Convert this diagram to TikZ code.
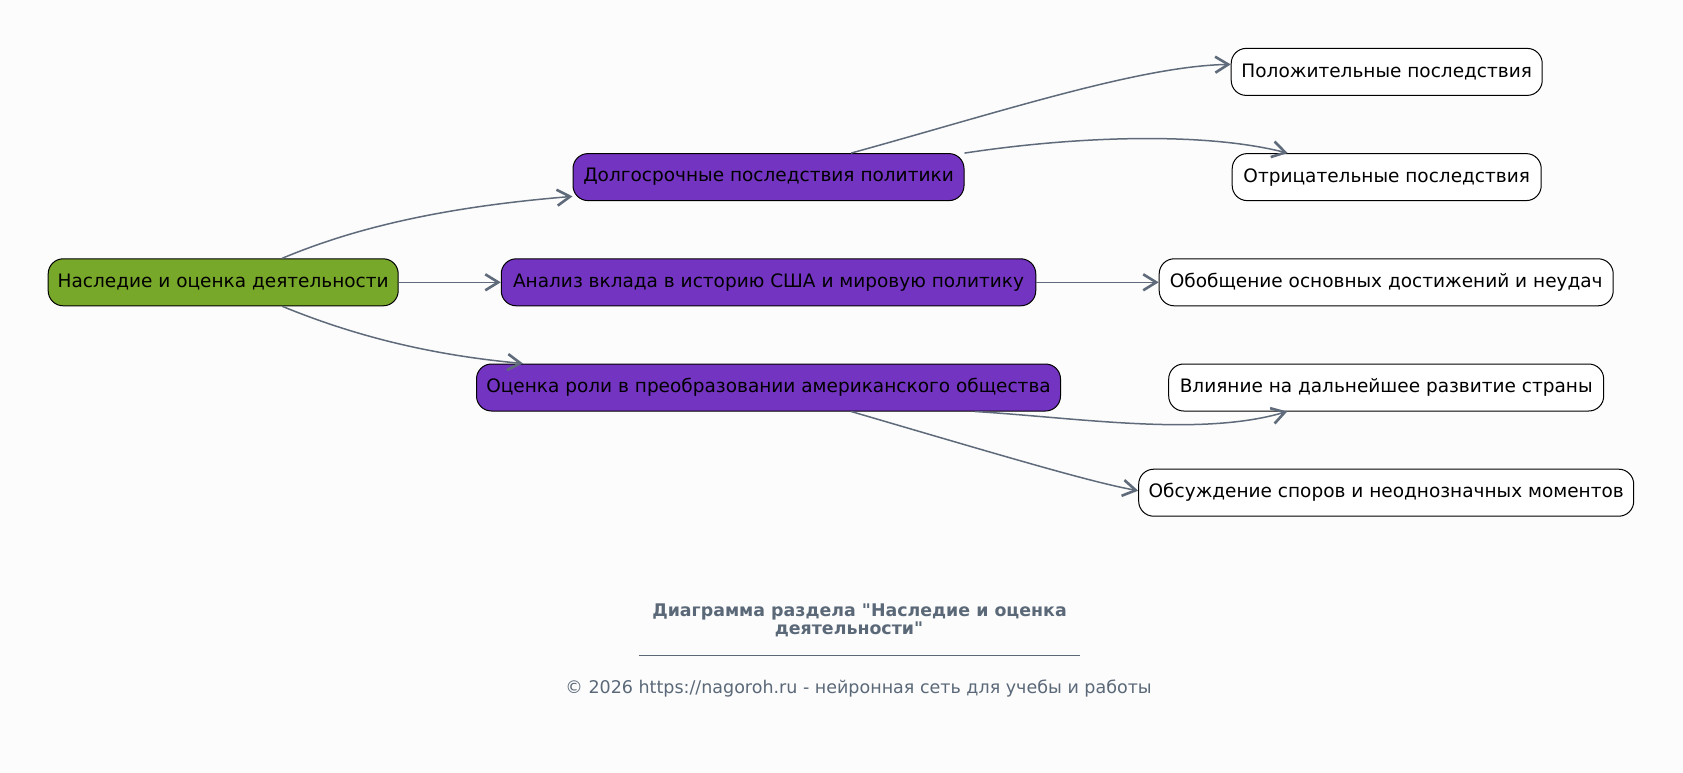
\documentclass[tikz,border=0pt]{standalone}
\usepackage{fontspec}
\setmainfont{DejaVu Sans}[Ligatures=TeXOff]
\usetikzlibrary{arrows.meta,calc}
\definecolor{bgc}{HTML}{FCFCFC}
\definecolor{edgec}{HTML}{5F6B7A}
\definecolor{titlec}{HTML}{5A6878}
\definecolor{rootc}{HTML}{78A82A}
\definecolor{midc}{HTML}{7434C2}
\tikzset{
  box/.style={draw=black, line width=1pt, rounded corners=15pt, minimum height=47pt,
    inner sep=0pt, font=\fontsize{18.5}{22}\selectfont, text=black},
  rootbox/.style={box, fill=rootc},
  midbox/.style={box, fill=midc},
  leafbox/.style={box, fill=white},
  conn/.style={draw=edgec, line width=1.5pt, -{Straight Barb[length=13pt,width=16pt,line width=2.6pt]}},
}
\begin{document}
\begin{tikzpicture}[x=1pt,y=-1pt]
\useasboundingbox[fill=bgc] (0,0) rectangle (1683,773);
\node[rootbox, minimum width=350pt] (root) at (223.2,282.3) {Наследие и оценка деятельности};
\node[midbox, minimum width=391pt] (dolg) at (768.5,177.1) {Долгосрочные последствия политики};
\node[midbox, minimum width=534.5pt] (analiz) at (768.5,282.3) {Анализ вклада в историю США и мировую политику};
\node[midbox, minimum width=584pt] (otsenka) at (768.5,387.5) {Оценка роли в преобразовании американского общества};
\node[leafbox, minimum width=311pt] (polozh) at (1386.7,71.9) {Положительные последствия};
\node[leafbox, minimum width=309pt] (otric) at (1386.7,177.1) {Отрицательные последствия};
\node[leafbox, minimum width=454pt] (obob) at (1386.2,282.3) {Обобщение основных достижений и неудач};
\node[leafbox, minimum width=435pt] (vliyan) at (1386.2,387.5) {Влияние на дальнейшее развитие страны};
\node[leafbox, minimum width=495pt] (obsuzh) at (1386.2,492.7) {Обсуждение споров и неоднозначных моментов};

\draw[conn] ($(root.north)+(59,0)$) .. controls (345,232) and (430,208) .. ($(dolg.west)+(0,19.3)$);
\draw[conn] (root.east) -- (analiz.west);
\draw[conn] ($(root.south)+(59,0)$) .. controls (345,332) and (420,354) .. ($(otsenka.north west)+(47,0)$);
\draw[conn] ($(dolg.north)+(82.6,0)$) .. controls (1000,112) and (1140,66) .. ($(polozh.west)+(0,-7.5)$);
\draw[conn] (dolg.north east) .. controls (1070,137) and (1200,131) .. ($(otric.north west)+(56,0)$);
\draw[conn] (analiz.east) -- (obob.west);
\draw[conn] ($(otsenka.south east)+(-86,0)$) .. controls (1080,418) and (1200,437) .. ($(vliyan.south west)+(119,0)$);
\draw[conn] ($(otsenka.south)+(82.6,0)$) .. controls (1000,455) and (1090,482) .. ($(obsuzh.west)+(0,-2)$);

\node[font=\bfseries\fontsize{17.4}{18.5}\selectfont, text=titlec, align=center] (title) at (859.5,620.5) {Диаграмма раздела "Наследие и оценка\\деятельности"\hspace*{21pt}};
\coordinate (ula) at (638.6,655.8);
\coordinate (ulb) at (1079.7,655.8);
\draw[titlec, line width=1pt] (ula) -- (ulb);
\node[font=\fontsize{17.5}{20}\selectfont, text=titlec] (foot) at (858.6,689) {© 2026 https://nagoroh.ru - нейронная сеть для учебы и работы};
\end{tikzpicture}
\end{document}
